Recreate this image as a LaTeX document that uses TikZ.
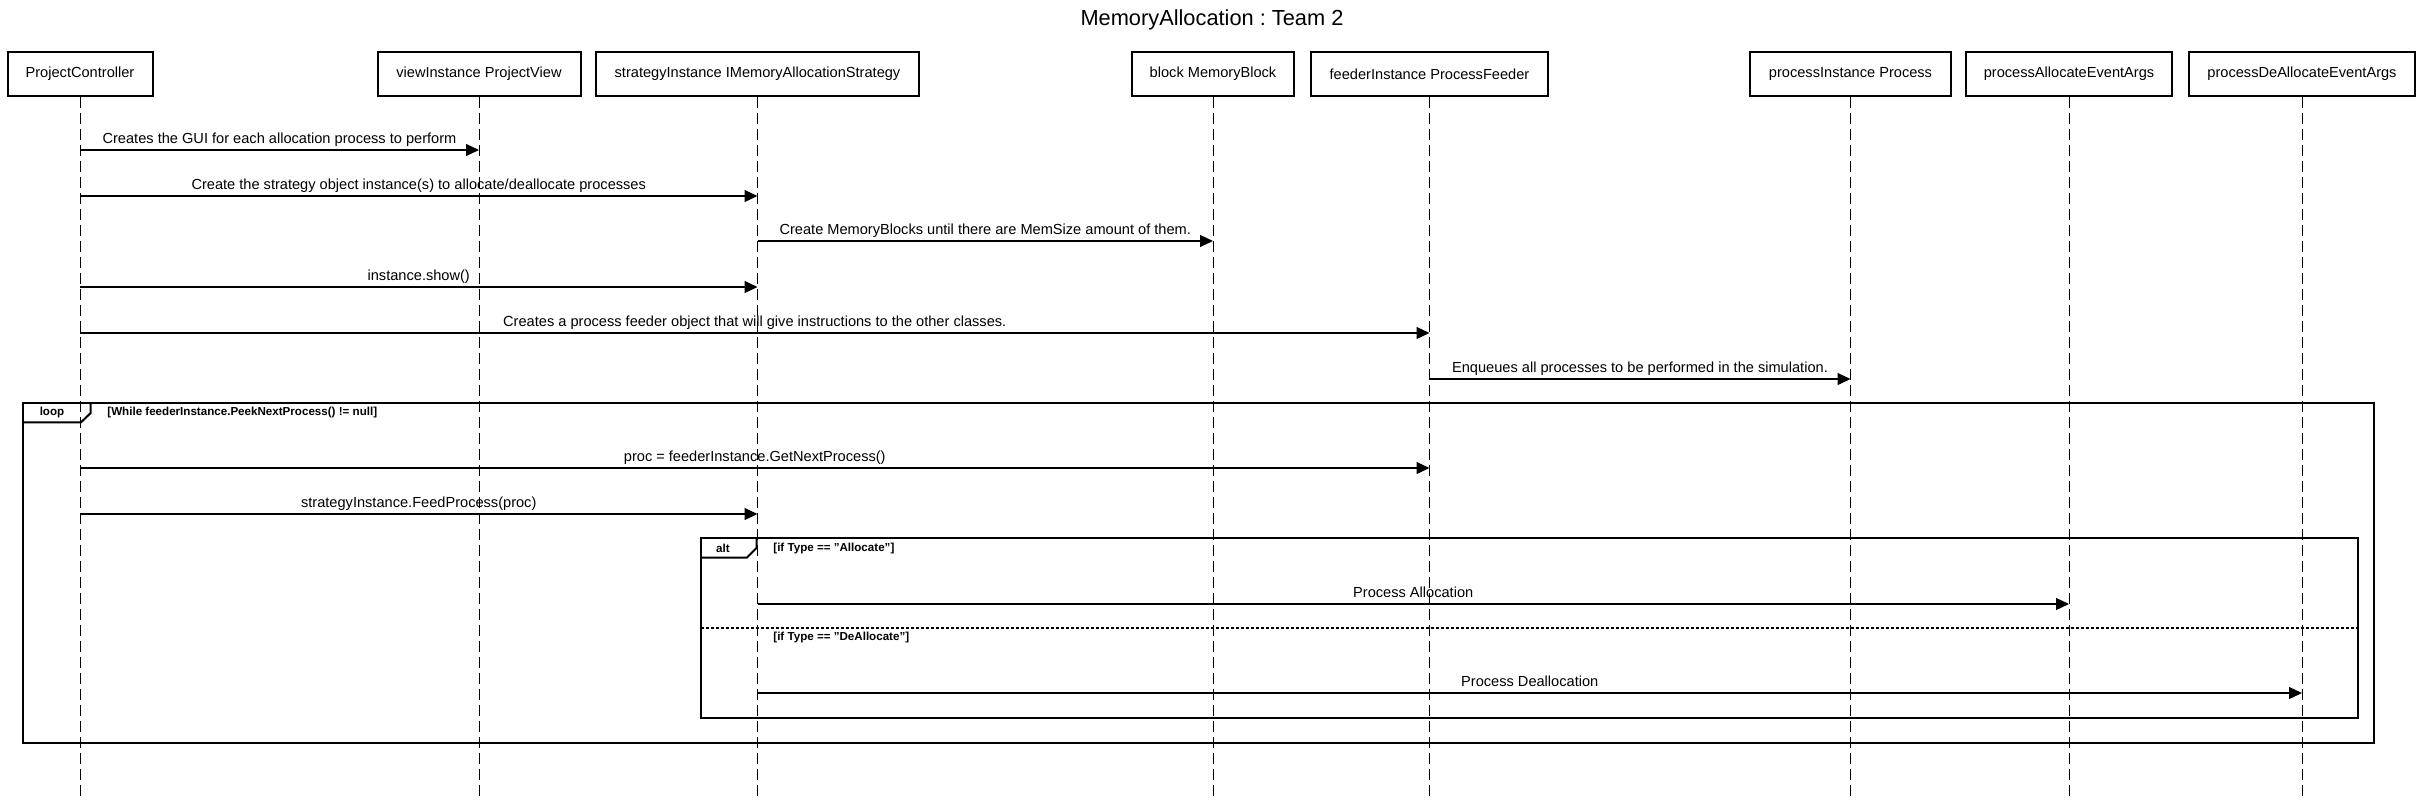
\documentclass[tikz,border=0pt]{standalone}
\usepackage{fontspec}
\setmainfont{Liberation Sans}
\usetikzlibrary{arrows.meta}

\tikzset{
  lifebox/.style={draw, line width=1pt, minimum height=22pt, inner sep=2pt,
    font=\fontsize{7.3}{9}\selectfont},
  lifeline/.style={line width=0.5pt, dash pattern=on 5.5pt off 2.5pt},
  msg/.style={line width=0.6pt, -{Triangle[length=6.5pt,width=6pt]}},
  msglabel/.style={anchor=base, yshift=3.3pt, inner sep=0pt,
    font=\fontsize{7.3}{9}\selectfont},
  framebox/.style={line width=1pt},
  guard/.style={inner sep=0pt, font=\bfseries\fontsize{5.8}{7}\selectfont}
}

\begin{document}
\frenchspacing
\begin{tikzpicture}[x=0.5pt,y=-0.5pt]
  \path[fill=white, use as bounding box] (0,0) rectangle (2422,799);
  \node[anchor=base, font=\fontsize{10.9}{13}\selectfont] (title) at (1212,25) {MemoryAllocation : Team 2};

  % lifeline heads
  \node[lifebox, minimum width=72.5pt] (pc) at (80,74) {ProjectController};
  \node[lifebox, minimum width=101.5pt] (view) at (479,74) {viewInstance ProjectView};
  \node[lifebox, minimum width=161.5pt] (strat) at (757.5,74) {strategyInstance IMemoryAllocationStrategy};
  \node[lifebox, minimum width=81pt] (block) at (1213,74) {block MemoryBlock};
  \node[lifebox, minimum width=118.5pt] (feeder) at (1429.5,74) {feederInstance ProcessFeeder};
  \node[lifebox, minimum width=100.5pt] (proc) at (1850.5,74) {processInstance Process};
  \node[lifebox, minimum width=103pt] (palloc) at (2069,74) {processAllocateEventArgs};
  \node[lifebox, minimum width=113pt] (pdealloc) at (2302,74) {processDeAllocateEventArgs};

  \coordinate (bottom) at (0,799);
  \foreach \n in {pc,view,strat,block,feeder,proc,palloc,pdealloc}
    \draw[lifeline] (\n.south) -- (\n.south |- bottom);

  % loop frame
  \draw[framebox] (22.7,403) rectangle (2374,743);
  \draw[framebox] (22.7,422.3) -- (81,422.3) -- (90.7,413) -- (90.7,403);
  \node[guard] (looptag) at (52,412.5) {loop};
  \node[guard, anchor=west] (loopcond) at (107,412.5) {[While feederInstance.PeekNextProcess() != null]};

  % alt frame
  \draw[framebox] (700.7,538) rectangle (2358,718);
  \draw[framebox] (700.7,557.7) -- (746.7,557.7) -- (756.7,547.7) -- (756.7,538);
  \node[guard] (alttag) at (723,548) {alt};
  \node[guard, anchor=west] (altcond) at (773,548) {[if Type == "Allocate"]};
  \draw[line width=0.8pt, dash pattern=on 1.5pt off 1pt] (700.7,628) -- (2358,628);
  \node[guard, anchor=west] (elsecond) at (773,637) {[if Type == "DeAllocate"]};

  % messages
  \foreach \a/\b/\y/\t [count=\i] in {
    pc/view/150/{Creates the GUI for each allocation process to perform},
    pc/strat/196/{Create the strategy object instance(s) to allocate/deallocate processes},
    strat/block/241/{Create MemoryBlocks until there are MemSize amount of them.},
    pc/strat/287/{instance.show()},
    pc/feeder/333/{Creates a process feeder object that will give instructions to the other classes.},
    feeder/proc/379/{Enqueues all processes to be performed in the simulation.},
    pc/feeder/468/{proc = feederInstance.GetNextProcess()},
    pc/strat/514/{strategyInstance.FeedProcess(proc)},
    strat/palloc/604/{Process Allocation},
    strat/pdealloc/693/{Process Deallocation}}
    \draw[msg] (\a |- 0,\y) -- node[msglabel] (m\i) {\t} (\b |- 0,\y);
\end{tikzpicture}
\end{document}
